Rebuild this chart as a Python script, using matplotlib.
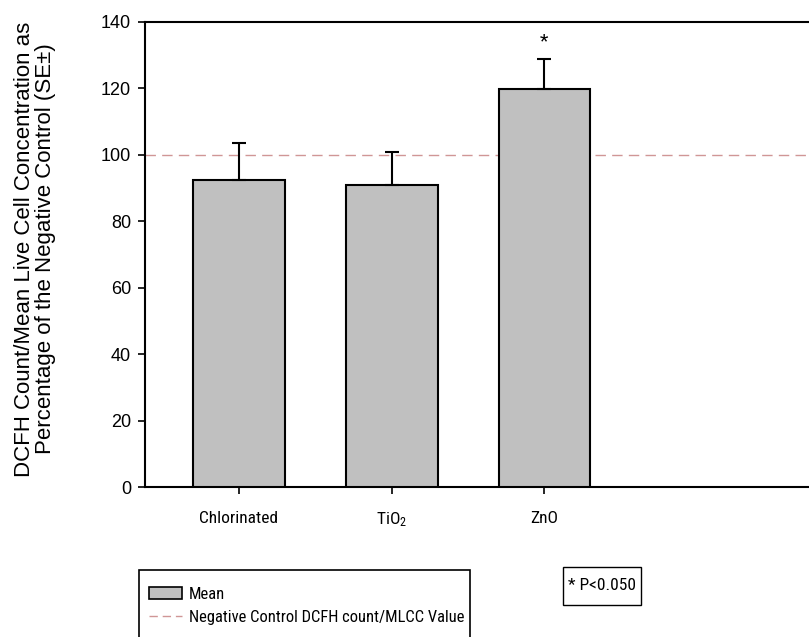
import matplotlib
matplotlib.use("Agg")
import matplotlib.pyplot as plt
from matplotlib.patches import Patch, Rectangle
from matplotlib.lines import Line2D
from matplotlib import font_manager

categories = ["Chlorinated", "TiO$_2$", "ZnO"]
means = [92.4, 91.0, 119.9]
errors = [11.1, 9.9, 9.0]
significant = [False, False, True]
yticks = [0, 20, 40, 60, 80, 100, 120, 140]
control_value = 100

names = {f.name for f in font_manager.fontManager.ttflist}
narrow = next((n for n in ["Roboto Condensed", "PT Sans Narrow", "Archivo Narrow"] if n in names),
              "Liberation Sans")
plt.rcParams["font.family"] = ["Liberation Sans", "DejaVu Sans"]
plt.rcParams["mathtext.default"] = "regular"
plt.rcParams["mathtext.fontset"] = "custom"
plt.rcParams["mathtext.rm"] = narrow

W, H = 809, 637
fig = plt.figure(figsize=(W / 100, H / 100), dpi=100)
ax = fig.add_axes([145 / W, 1 - 487 / H, 1 - 145 / W, (487 - 22) / H])

x = list(range(len(categories)))
ax.bar(x, means, width=0.6, color="#c0c0c0", edgecolor="black", linewidth=1.5, zorder=3)
ax.errorbar(x, means, yerr=[[0] * len(errors), errors], fmt="none", ecolor="black",
            elinewidth=1.5, capsize=5, capthick=1.5, zorder=4)
for xi, m, e, s in zip(x, means, errors, significant):
    if s:
        ax.text(xi, m + e + 5.3, "*", ha="center", va="center", fontsize=14, family=narrow)

dash_color = "#d09696"
ax.axhline(control_value, color=dash_color, linewidth=1, linestyle=(0, (7.5, 4.5)), zorder=2)

ax.set_ylim(0, 140)
ax.set_xlim(-0.616, 3.733)
ax.set_yticks(yticks)
ax.set_xticks(x)
ax.set_xticklabels(categories, family=narrow, fontsize=12.5)
for lab in ax.get_yticklabels():
    lab.set_fontsize(13)
ax.tick_params(axis="both", direction="out", length=5, width=1.2)
ax.tick_params(axis="x", pad=12)
ax.tick_params(axis="y", pad=5)
ax.spines["right"].set_visible(False)
for sp in ["left", "top", "bottom"]:
    ax.spines[sp].set_linewidth(1.5)

fig.text(35 / W, 1 - 249 / H,
         "DCFH Count/Mean Live Cell Concentration as\nPercentage of the Negative Control (SE±)",
         rotation=90, ha="center", va="center", multialignment="center",
         fontsize=16, linespacing=1.05)

handles = [Patch(facecolor="#c0c0c0", edgecolor="black", linewidth=1.2),
           Line2D([0], [0], color=dash_color, linewidth=1, linestyle=(0, (6, 3.5)))]
labels = ["Mean", "Negative Control DCFH count/MLCC Value"]
fig.legend(handles, labels, loc="upper left", bbox_to_anchor=(149 / W, 1 - 587 / H),
           frameon=False, borderpad=0, borderaxespad=0, handlelength=2.0,
           handletextpad=0.4, labelspacing=0.5, prop={"family": narrow, "size": 11.9})
fig.add_artist(Rectangle((139 / W, -0.05), (470 - 139) / W, (637 - 570) / H + 0.05,
                         transform=fig.transFigure, fill=False, edgecolor="black",
                         linewidth=1.2, clip_on=False))
fig.add_artist(Rectangle((563 / W, 1 - 605 / H), (641 - 563) / W, (605 - 567) / H,
                         transform=fig.transFigure, fill=False, edgecolor="black",
                         linewidth=1.0))
fig.text(602 / W, 1 - 586 / H, "* P<0.050", ha="center", va="center",
         fontsize=12.5, family=narrow)

fig.savefig("out.png", dpi=100)
